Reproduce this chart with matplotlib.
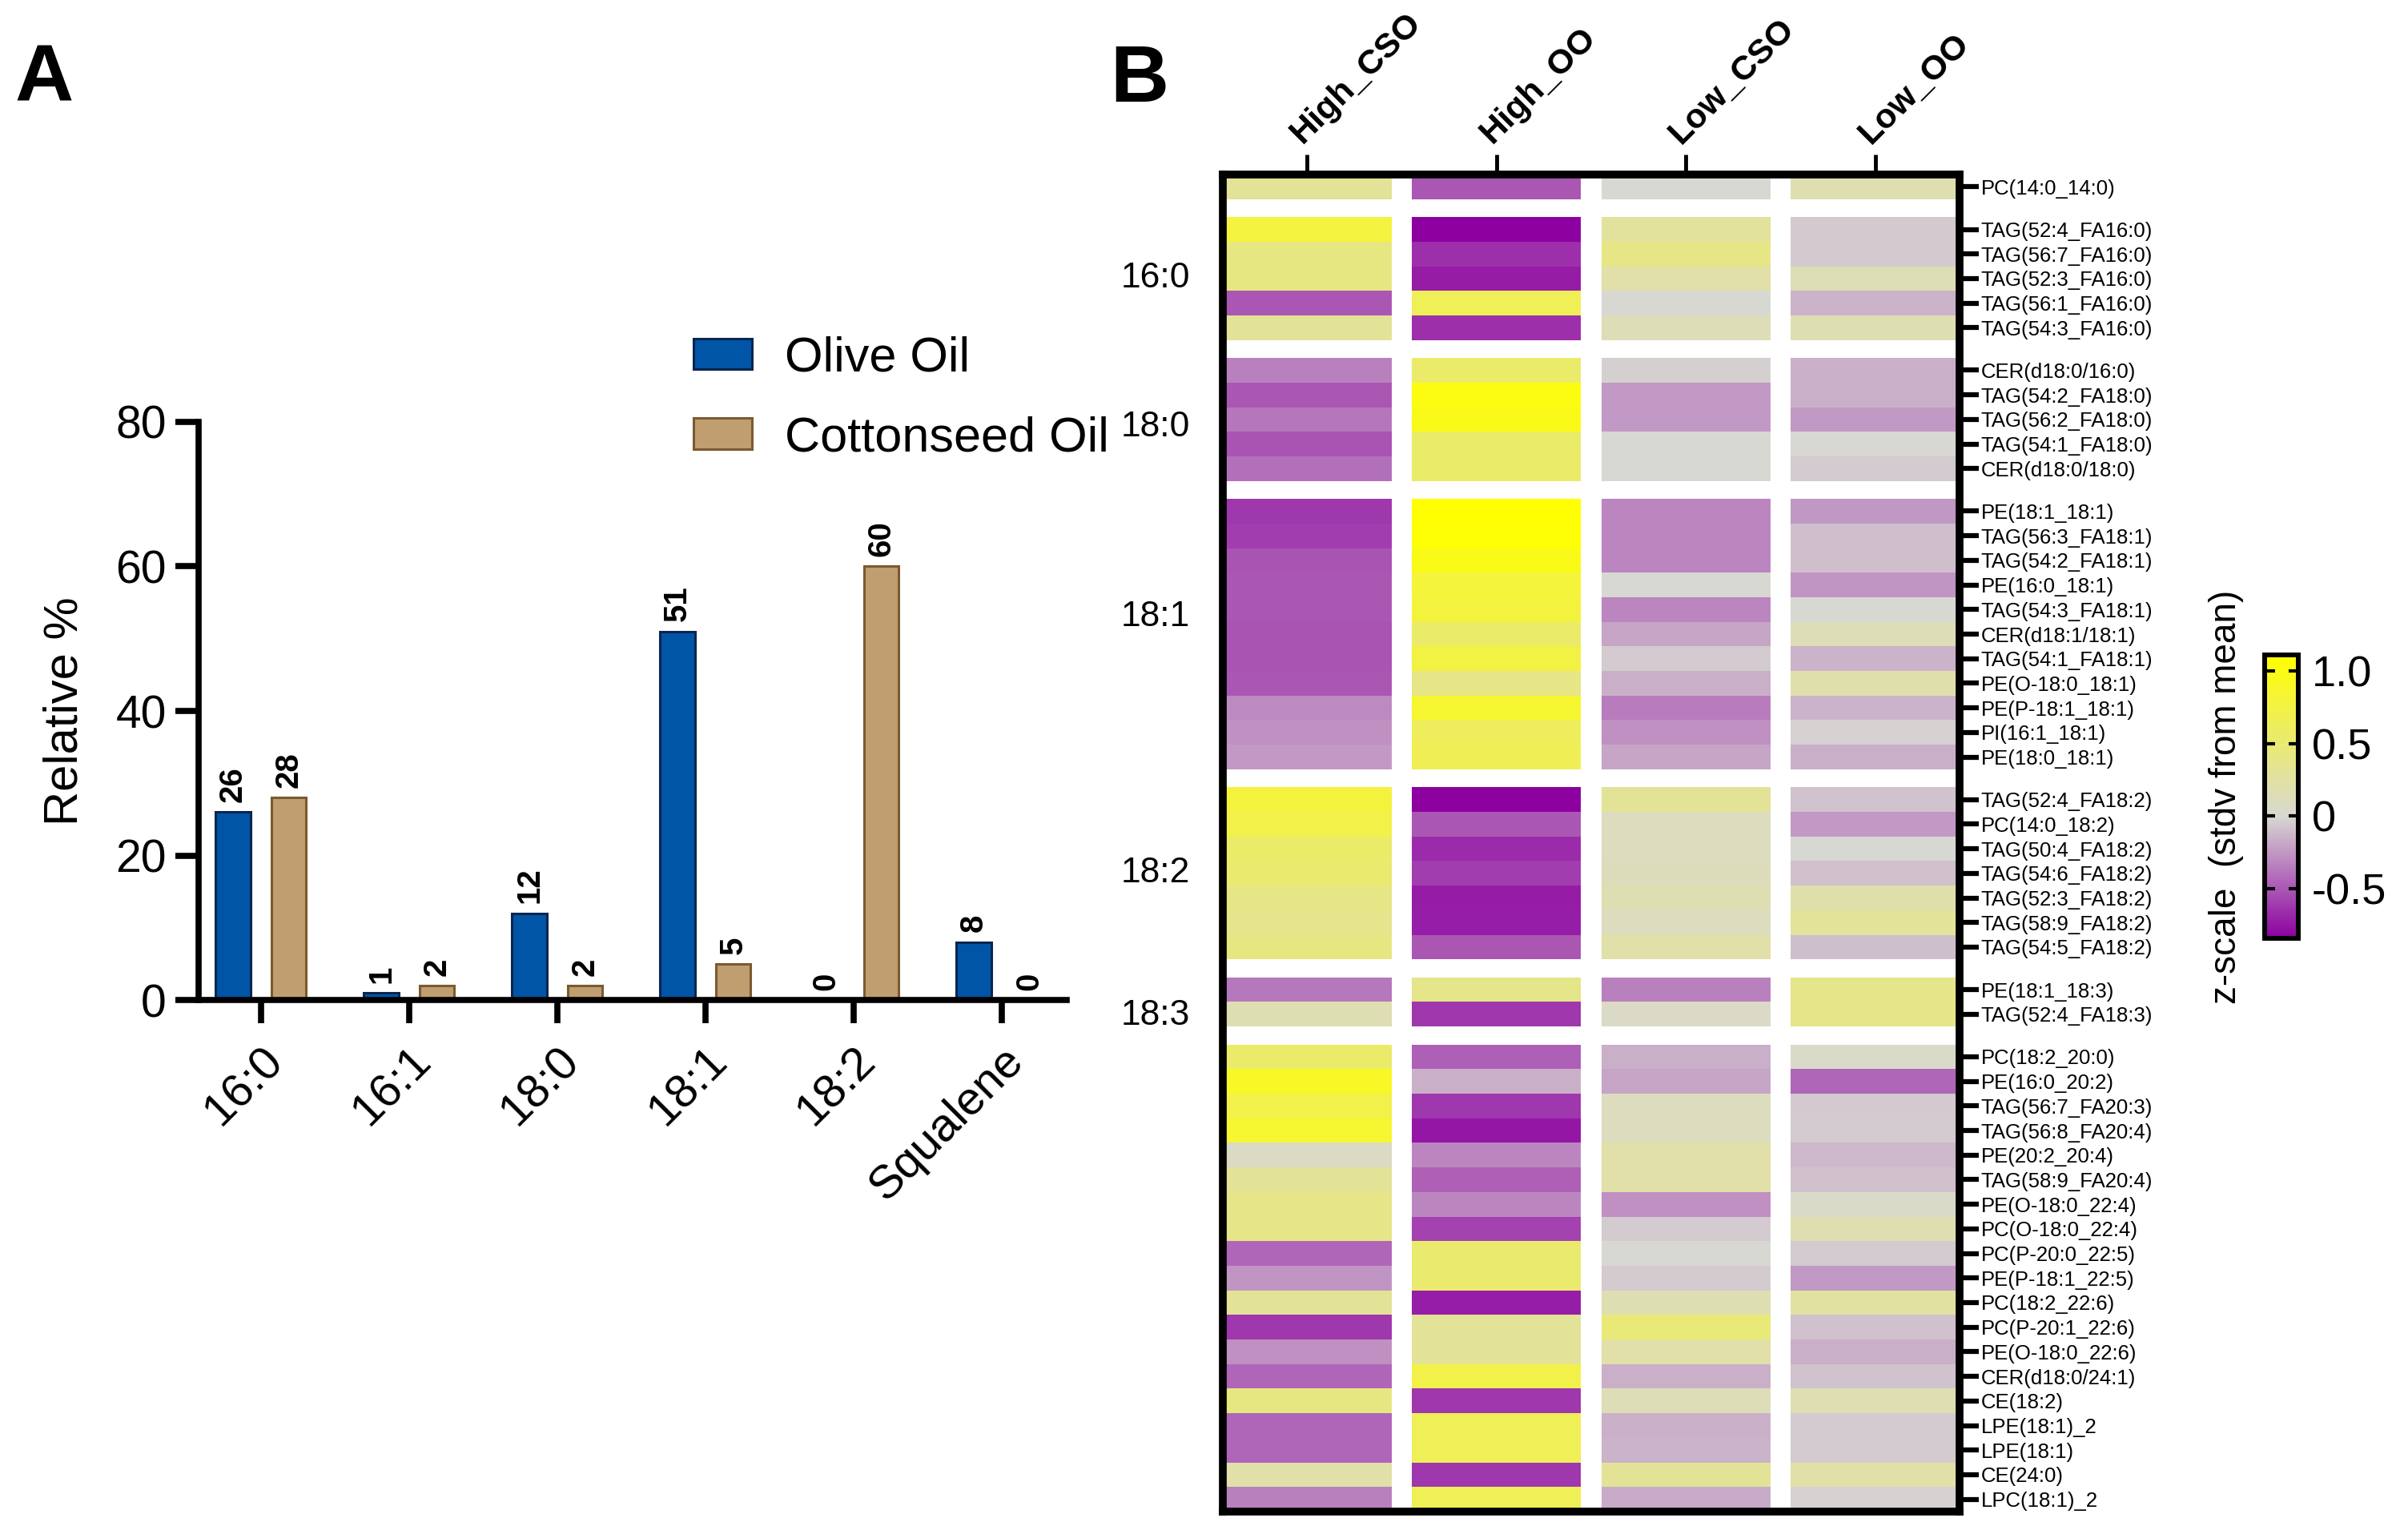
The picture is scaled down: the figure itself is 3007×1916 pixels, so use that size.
import matplotlib
matplotlib.use("Agg")
import matplotlib.pyplot as plt
import matplotlib.transforms as mtransforms
from matplotlib.colors import LinearSegmentedColormap
import numpy as np

plt.rcParams['font.family'] = ['Liberation Sans', 'DejaVu Sans']

# ---- panel A data ----
fatty_acids = ["16:0", "16:1", "18:0", "18:1", "18:2", "Squalene"]
olive_oil = [26, 1, 12, 51, 0, 8]
cottonseed_oil = [28, 2, 2, 5, 60, 0]

# ---- panel B data ----
conditions = ["High_CSO", "High_OO", "Low_CSO", "Low_OO"]
group_names = ["", "16:0", "18:0", "18:1", "18:2", "18:3", ""]
group_lipids = [
    ["PC(14:0_14:0)"],
    ["TAG(52:4_FA16:0)", "TAG(56:7_FA16:0)", "TAG(52:3_FA16:0)", "TAG(56:1_FA16:0)", "TAG(54:3_FA16:0)"],
    ["CER(d18:0/16:0)", "TAG(54:2_FA18:0)", "TAG(56:2_FA18:0)", "TAG(54:1_FA18:0)", "CER(d18:0/18:0)"],
    ["PE(18:1_18:1)", "TAG(56:3_FA18:1)", "TAG(54:2_FA18:1)", "PE(16:0_18:1)", "TAG(54:3_FA18:1)",
     "CER(d18:1/18:1)", "TAG(54:1_FA18:1)", "PE(O-18:0_18:1)", "PE(P-18:1_18:1)", "PI(16:1_18:1)",
     "PE(18:0_18:1)"],
    ["TAG(52:4_FA18:2)", "PC(14:0_18:2)", "TAG(50:4_FA18:2)", "TAG(54:6_FA18:2)", "TAG(52:3_FA18:2)",
     "TAG(58:9_FA18:2)", "TAG(54:5_FA18:2)"],
    ["PE(18:1_18:3)", "TAG(52:4_FA18:3)"],
    ["PC(18:2_20:0)", "PE(16:0_20:2)", "TAG(56:7_FA20:3)", "TAG(56:8_FA20:4)", "PE(20:2_20:4)",
     "TAG(58:9_FA20:4)", "PE(O-18:0_22:4)", "PC(O-18:0_22:4)", "PC(P-20:0_22:5)", "PE(P-18:1_22:5)",
     "PC(18:2_22:6)", "PC(P-20:1_22:6)", "PE(O-18:0_22:6)", "CER(d18:0/24:1)", "CE(18:2)",
     "LPE(18:1)_2", "LPE(18:1)", "CE(24:0)", "LPC(18:1)_2"],
]
# z-scores, columns: High_CSO, High_OO, Low_CSO, Low_OO
group_z = [
    [[0.31, -0.50, 0.00, 0.18]],
    [[0.77, -0.84, 0.28, -0.06],
     [0.43, -0.65, 0.40, -0.06],
     [0.43, -0.73, 0.22, 0.15],
     [-0.50, 0.64, 0.00, -0.14],
     [0.31, -0.65, 0.14, 0.16]],
    [[-0.34, 0.55, -0.03, -0.16],
     [-0.50, 1.02, -0.24, -0.16],
     [-0.38, 0.98, -0.24, -0.24],
     [-0.52, 0.55, 0.00, 0.00],
     [-0.40, 0.55, 0.00, -0.05]],
    [[-0.62, 1.10, -0.32, -0.25],
     [-0.60, 1.08, -0.32, -0.10],
     [-0.52, 0.98, -0.32, -0.10],
     [-0.50, 0.80, 0.00, -0.26],
     [-0.50, 0.78, -0.32, 0.00],
     [-0.52, 0.55, -0.20, 0.14],
     [-0.52, 0.75, -0.05, -0.14],
     [-0.50, 0.40, -0.16, 0.20],
     [-0.30, 0.85, -0.36, -0.14],
     [-0.28, 0.62, -0.28, -0.02],
     [-0.24, 0.66, -0.20, -0.16]],
    [[0.78, -0.84, 0.31, -0.08],
     [0.72, -0.50, 0.10, -0.24],
     [0.55, -0.67, 0.10, 0.00],
     [0.52, -0.60, 0.12, -0.09],
     [0.40, -0.73, 0.16, 0.20],
     [0.36, -0.72, 0.10, 0.30],
     [0.43, -0.50, 0.22, -0.10]],
    [[-0.37, 0.38, -0.34, 0.38],
     [0.16, -0.62, 0.06, 0.38]],
    [[0.55, -0.46, -0.16, 0.05],
     [0.90, -0.16, -0.20, -0.44],
     [0.72, -0.62, 0.10, -0.06],
     [0.85, -0.75, 0.10, -0.05],
     [0.07, -0.32, 0.22, -0.12],
     [0.31, -0.46, 0.22, -0.09],
     [0.39, -0.32, -0.28, 0.05],
     [0.39, -0.58, -0.05, 0.18],
     [-0.44, 0.52, 0.00, -0.05],
     [-0.26, 0.52, -0.05, -0.24],
     [0.31, -0.72, 0.16, 0.25],
     [-0.62, 0.31, 0.48, -0.09],
     [-0.28, 0.31, 0.22, -0.16],
     [-0.44, 0.72, -0.16, -0.08],
     [0.43, -0.62, 0.14, 0.18],
     [-0.44, 0.64, -0.15, -0.05],
     [-0.44, 0.64, -0.14, -0.05],
     [0.22, -0.62, 0.31, 0.22],
     [-0.34, 0.65, -0.17, -0.02]],
]
cbar_ticks = [-0.5, 0, 0.5, 1.0]
cbar_ticklabels = ["-0.5", "0", "0.5", "1.0"]

fig = plt.figure(figsize=(30.07, 19.16), dpi=100)

# ================= panel A =================
ax = fig.add_axes([0.0825, 0.348, 0.3605, 0.377])
x = np.arange(len(fatty_acids))
w = 0.235
b1 = ax.bar(x - 0.1875, olive_oil, w, color='#0055A6', edgecolor='#0A2550', linewidth=2.2, label='Olive Oil')
b2 = ax.bar(x + 0.1875, cottonseed_oil, w, color='#C19E6F', edgecolor='#7A5A30', linewidth=2.2, label='Cottonseed Oil')
for bars, vals in ((b1, olive_oil), (b2, cottonseed_oil)):
    for r, v in zip(bars, vals):
        ax.annotate(str(v), (r.get_x() + r.get_width() / 2, v), xytext=(0, 9), textcoords='offset points',
                    rotation=90, ha='center', va='bottom', fontsize=29, fontweight='bold')

ax.set_xlim(-0.42, 5.44)
ax.set_ylim(0, 80)
ax.set_yticks([0, 20, 40, 60, 80])
ax.set_xticks(x)
ax.set_xticklabels(fatty_acids, rotation=45, ha='right', rotation_mode='anchor')
offset = mtransforms.ScaledTranslation(14 / 72, 0, fig.dpi_scale_trans)
for lab in ax.get_xticklabels():
    lab.set_transform(lab.get_transform() + offset)
for s in ['top', 'right']:
    ax.spines[s].set_visible(False)
for s in ['left', 'bottom']:
    ax.spines[s].set_linewidth(5.5)
ax.tick_params(axis='both', length=21, width=5.5, pad=8)
ax.tick_params(axis='y', labelsize=41)
ax.tick_params(axis='x', labelsize=42, pad=14)
ax.set_ylabel("Relative %", fontsize=43)
ax.yaxis.set_label_coords(-0.129, 0.5)
ax.legend(loc='upper left', bbox_to_anchor=(0.288, 0.781), bbox_transform=fig.transFigure,
          frameon=False, fontsize=44, handlelength=1.2, handleheight=0.6, handletextpad=0.66,
          labelspacing=0.7, borderpad=0, borderaxespad=0)

fig.text(0.006, 0.972, "A", fontsize=73, fontweight='bold', ha='left', va='top')
fig.text(0.461, 0.972, "B", fontsize=73, fontweight='bold', ha='left', va='top')

# ================= panel B =================
row_gap = 0.73
col_gap = 0.123
cmap = LinearSegmentedColormap.from_list(
    'zs', [(0.0, '#8C00A0'), (0.84 / 1.95, '#D8D8D2'), (1.0, '#FFFF00')])
cmap.set_bad('white')
vmin, vmax = -0.84, 1.11

rows = []
yedges = [0.0]
ycenters = []
row_labels = []
group_centers = []
for gi, (labs, vals) in enumerate(zip(group_lipids, group_z)):
    start = yedges[-1]
    for lab, v in zip(labs, vals):
        rows.append(v)
        ycenters.append(yedges[-1] + 0.5)
        yedges.append(yedges[-1] + 1)
        row_labels.append(lab)
    group_centers.append((start + yedges[-1]) / 2)
    if gi < len(group_lipids) - 1:
        rows.append([np.nan] * len(conditions))
        yedges.append(yedges[-1] + row_gap)

data = np.array(rows, dtype=float)
full = []
xedges = [0.0]
xcenters = []
for ci in range(len(conditions)):
    full.append(data[:, ci])
    xcenters.append(xedges[-1] + 0.5)
    xedges.append(xedges[-1] + 1)
    if ci < len(conditions) - 1:
        full.append(np.full(data.shape[0], np.nan))
        xedges.append(xedges[-1] + col_gap)
full = np.ma.masked_invalid(np.array(full).T)

hx = fig.add_axes([0.5078, 0.0146, 0.306, 0.8716])
mesh = hx.pcolormesh(xedges, yedges, full, cmap=cmap, vmin=vmin, vmax=vmax)
hx.set_xlim(xedges[0], xedges[-1])
hx.set_ylim(yedges[-1], yedges[0])
for s in hx.spines.values():
    s.set_linewidth(7)
hx.xaxis.tick_top()
hx.set_xticks(xcenters)
hx.set_xticklabels(conditions, rotation=45, ha='left', rotation_mode='anchor', fontsize=31, fontweight='bold')
col_offset = mtransforms.ScaledTranslation(12 / 72, 0, fig.dpi_scale_trans)
for lab in hx.get_xticklabels():
    lab.set_transform(lab.get_transform() + col_offset)
hx.tick_params(axis='x', length=18, width=3.5, pad=4)
hx.yaxis.tick_right()
hx.set_yticks(ycenters)
hx.set_yticklabels(row_labels, fontsize=18.5)
hx.tick_params(axis='y', length=17, width=4.5, pad=2)

# group labels sit near (not exactly at) the middle of their block
label_shift = [0, 0, 0.3, -0.7, 0, 0.55, 0]
blend = mtransforms.blended_transform_factory(hx.transAxes, hx.transData)
for name, yc, dy in zip(group_names, group_centers, label_shift):
    if name:
        hx.text(-0.138, yc + dy, name, transform=blend, fontsize=32, ha='left', va='center')

cax = fig.add_axes([0.9405, 0.3883, 0.014, 0.1848])
cb = fig.colorbar(mesh, cax=cax, ticks=cbar_ticks)
cb.ax.set_yticklabels(cbar_ticklabels)
cb.outline.set_linewidth(4.3)
cax.tick_params(direction='in', left=True, right=True, length=9, width=3, labelsize=39, pad=12)
cax.text(-1.14, 0.5, "z-scale  (stdv from mean)", transform=cax.transAxes, rotation=90,
         ha='center', va='center', fontsize=33)

fig.savefig("out.png", dpi=100)
